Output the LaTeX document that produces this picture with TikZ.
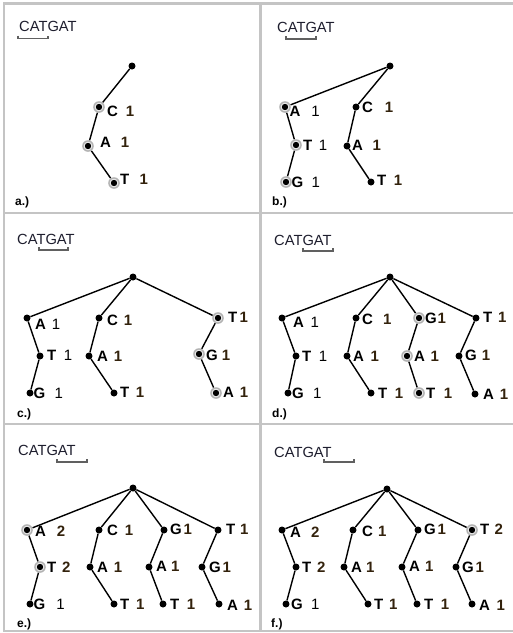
\documentclass[tikz,border=0pt]{standalone}
\usepackage{fontspec}
\setmainfont{Liberation Sans}
\definecolor{dig}{HTML}{33220C}
\definecolor{seqc}{HTML}{1E1E2E}
\definecolor{framec}{HTML}{C4C4C4}
\definecolor{brkc}{HTML}{606060}
\newcommand\DigB[1]{{\color{dig}\bfseries #1}}
\newcommand\DigR[1]{{\mdseries #1}}
\newcommand\Lab[6]{\node[lab] (#1) at (#2,#3) {\makebox[#5pt][l]{#4}#6};}
\newcommand\Brk[3]{\draw[brk] (#1,#3-2.7) -- (#1,#3) -- (#2,#3) -- (#2,#3-2.7);}
\tikzset{
  dot/.style={circle, fill=black, inner sep=0, minimum size=7pt},
  hdot/.style={circle, fill=gray!60, inner sep=0, minimum size=11.6pt,
    path picture={\fill[gray!12] (path picture bounding box.center) circle (4.3pt);
      \fill[black] (path picture bounding box.center) circle (3.2pt);}},
  edge/.style={draw=black, line width=1.4pt},
  lab/.style={anchor=west, inner sep=0, font=\fontsize{15}{16}\selectfont\bfseries},
  seq/.style={anchor=west, inner sep=0, text=seqc, font=\fontsize{14.7}{16}\selectfont},
  plab/.style={anchor=west, inner sep=0, font=\fontsize{12}{13}\selectfont\bfseries},
  brk/.style={draw=brkc, line width=1.4pt},
  frame/.style={draw=framec, line width=2.6pt}
}
\begin{document}
\begin{tikzpicture}[x=1pt,y=-1pt]
\useasboundingbox (0,0) rectangle (513,633);
% frame
\draw[frame] (3.8,3.5) -- (513,3.5);
\draw[frame] (3.8,213) -- (513,213);
\draw[frame] (3.8,424) -- (513,424);
\draw[frame] (3.8,631) -- (513,631);
\draw[frame] (3.8,2.2) -- (3.8,632.3);
\draw[frame] (260.7,2.2) -- (260.7,632.3);

% ---------- panel a ----------
\node[seq] (sa) at (19,26.5) {CATGAT};
\Brk{18}{48}{38.3}
\node[plab] (pa) at (15,202.5) {a.)};
\node[dot] (a0) at (132,66) {};
\node[hdot] (a1) at (99,107) {};
\node[hdot] (a2) at (88,146) {};
\node[hdot] (a3) at (114,183) {};
\draw[edge] (a0) -- (a1) -- (a2) -- (a3);
\Lab{a1l}{107}{111}{C}{18.7}{\DigB{1}}
\Lab{a2l}{100}{142.5}{A}{20.7}{\DigB{1}}
\Lab{a3l}{120}{179}{T}{19.3}{\DigB{1}}

% ---------- panel b ----------
\node[seq] (sb) at (277,27) {CATGAT};
\Brk{286}{316}{39}
\node[plab] (pb) at (272,202.5) {b.)};
\node[dot] (b0) at (390,66) {};
\node[hdot] (b1) at (285,107) {};
\node[hdot] (b2) at (296,145) {};
\node[hdot] (b3) at (286,182) {};
\node[dot] (b4) at (356,107) {};
\node[dot] (b5) at (347,146) {};
\node[dot] (b6) at (371,182) {};
\draw[edge] (b0) -- (b1) -- (b2) -- (b3);
\draw[edge] (b0) -- (b4) -- (b5) -- (b6);
\Lab{b1l}{289.5}{111.5}{A}{21.7}{\DigR{1}}
\Lab{b2l}{303}{145.5}{T}{15.7}{\DigR{1}}
\Lab{b3l}{291.5}{182}{G}{20}{\DigR{1}}
\Lab{b4l}{362}{107.5}{C}{22.7}{\DigB{1}}
\Lab{b5l}{352}{145.5}{A}{20.3}{\DigB{1}}
\Lab{b6l}{377}{180}{T}{16.7}{\DigB{1}}

% ---------- panel c ----------
\node[seq] (sc) at (17,239) {CATGAT};
\Brk{39}{68}{250}
\node[plab] (pc) at (17,414) {c.)};
\node[dot] (c0) at (133,277) {};
\node[dot] (c1) at (27,318) {};
\node[dot] (c2) at (40,356) {};
\node[dot] (c3) at (30,393) {};
\node[dot] (c4) at (99,318) {};
\node[dot] (c5) at (89,356) {};
\node[dot] (c6) at (114,393) {};
\node[hdot] (c7) at (218,318) {};
\node[hdot] (c8) at (199,354) {};
\node[hdot] (c9) at (216,393) {};
\draw[edge] (c0) -- (c1) -- (c2) -- (c3);
\draw[edge] (c0) -- (c4) -- (c5) -- (c6);
\draw[edge] (c0) -- (c7) -- (c8) -- (c9);
\Lab{c1l}{35}{324}{A}{16.7}{\DigR{1}}
\Lab{c2l}{47}{355.5}{T}{16.7}{\DigR{1}}
\Lab{c3l}{33.5}{393}{G}{21}{\DigR{1}}
\Lab{c4l}{107}{320}{C}{16.7}{\DigB{1}}
\Lab{c5l}{97}{356}{A}{16.7}{\DigB{1}}
\Lab{c6l}{120}{392.5}{T}{15.7}{\DigB{1}}
\Lab{c7l}{228}{317.5}{T}{11.3}{\DigB{1}}
\Lab{c8l}{206}{355}{G}{15.7}{\DigB{1}}
\Lab{c9l}{223}{392}{A}{16.7}{\DigB{1}}

% ---------- panel d ----------
\node[seq] (sd) at (274,240) {CATGAT};
\Brk{303}{333}{251}
\node[plab] (pd) at (272,414) {d.)};
\node[dot] (d0) at (390,277) {};
\node[dot] (d1) at (282,318) {};
\node[dot] (d2) at (296,356) {};
\node[dot] (d3) at (288,393) {};
\node[dot] (d4) at (356,318) {};
\node[dot] (d5) at (347,356) {};
\node[dot] (d6) at (371,393) {};
\node[hdot] (d7) at (419,318) {};
\node[hdot] (d8) at (407,356) {};
\node[hdot] (d9) at (419,393) {};
\node[dot] (d10) at (476,318) {};
\node[dot] (d11) at (459,356) {};
\node[dot] (d12) at (475,394) {};
\draw[edge] (d0) -- (d1) -- (d2) -- (d3);
\draw[edge] (d0) -- (d4) -- (d5) -- (d6);
\draw[edge] (d0) -- (d7) -- (d8) -- (d9);
\draw[edge] (d0) -- (d10) -- (d11) -- (d12);
\Lab{d1l}{293}{322.5}{A}{17.3}{\DigR{1}}
\Lab{d2l}{302}{356}{T}{16.7}{\DigR{1}}
\Lab{d3l}{292}{393}{G}{21}{\DigR{1}}
\Lab{d4l}{362}{319}{C}{21}{\DigB{1}}
\Lab{d5l}{353}{356}{A}{17.3}{\DigB{1}}
\Lab{d6l}{378}{393}{T}{16.7}{\DigB{1}}
\Lab{d7l}{425}{318}{G}{12.3}{\DigB{1}}
\Lab{d8l}{414}{356}{A}{16.3}{\DigB{1}}
\Lab{d9l}{426}{393}{T}{17.7}{\DigB{1}}
\Lab{d10l}{483}{317}{T}{15}{\DigB{1}}
\Lab{d11l}{465}{355}{G}{16.7}{\DigB{1}}
\Lab{d12l}{483}{394}{A}{16.7}{\DigB{1}}

% ---------- panel e ----------
\node[seq] (se) at (18,450.5) {CATGAT};
\Brk{57}{87}{462}
\node[plab] (pe) at (17,624) {e.)};
\node[dot] (e0) at (133,488) {};
\node[hdot] (e1) at (27,530) {};
\node[hdot] (e2) at (40,567) {};
\node[dot] (e3) at (30,604) {};
\node[dot] (e4) at (99,530) {};
\node[dot] (e5) at (90,567) {};
\node[dot] (e6) at (114,604) {};
\node[dot] (e7) at (164,530) {};
\node[dot] (e8) at (149,567) {};
\node[dot] (e9) at (163,604) {};
\node[dot] (e10) at (218,530) {};
\node[dot] (e11) at (202,567) {};
\node[dot] (e12) at (219,604) {};
\draw[edge] (e0) -- (e1) -- (e2) -- (e3);
\draw[edge] (e0) -- (e4) -- (e5) -- (e6);
\draw[edge] (e0) -- (e7) -- (e8) -- (e9);
\draw[edge] (e0) -- (e10) -- (e11) -- (e12);
\Lab{e1l}{35}{531.5}{A}{21.7}{\DigB{2}}
\Lab{e2l}{47}{567}{T}{15}{\DigB{2}}
\Lab{e3l}{33.5}{604}{G}{22.7}{\DigR{1}}
\Lab{e4l}{107}{530}{C}{17.7}{\DigB{1}}
\Lab{e5l}{97}{567}{A}{16.7}{\DigB{1}}
\Lab{e6l}{120}{604}{T}{16}{\DigB{1}}
\Lab{e7l}{170}{529}{G}{13.3}{\DigB{1}}
\Lab{e8l}{156}{566}{A}{15}{\DigB{1}}
\Lab{e9l}{170}{604}{T}{16.7}{\DigB{1}}
\Lab{e10l}{226}{529}{T}{14}{\DigB{1}}
\Lab{e11l}{209}{567}{G}{13.3}{\DigB{1}}
\Lab{e12l}{227}{605}{A}{16.7}{\DigB{1}}

% ---------- panel f ----------
\node[seq] (sf) at (274,452) {CATGAT};
\Brk{324}{354}{462}
\node[plab] (pf) at (271,624) {f.)};
\node[dot] (f0) at (387,489) {};
\node[dot] (f1) at (282,530) {};
\node[dot] (f2) at (296,567) {};
\node[dot] (f3) at (286,604) {};
\node[dot] (f4) at (353,530) {};
\node[dot] (f5) at (344,567) {};
\node[dot] (f6) at (368,604) {};
\node[dot] (f7) at (418,530) {};
\node[dot] (f8) at (402,567) {};
\node[dot] (f9) at (417,604) {};
\node[hdot] (f10) at (472,530) {};
\node[dot] (f11) at (456,567) {};
\node[dot] (f12) at (472,604) {};
\draw[edge] (f0) -- (f1) -- (f2) -- (f3);
\draw[edge] (f0) -- (f4) -- (f5) -- (f6);
\draw[edge] (f0) -- (f7) -- (f8) -- (f9);
\draw[edge] (f0) -- (f10) -- (f11) -- (f12);
\Lab{f1l}{290}{532}{A}{21}{\DigB{2}}
\Lab{f2l}{302}{567}{T}{15}{\DigB{2}}
\Lab{f3l}{291}{604}{G}{20}{\DigR{1}}
\Lab{f4l}{362}{531}{C}{16}{\DigB{1}}
\Lab{f5l}{351}{567}{A}{15}{\DigB{1}}
\Lab{f6l}{374}{604}{T}{15}{\DigB{1}}
\Lab{f7l}{424}{529}{G}{13.3}{\DigB{1}}
\Lab{f8l}{409}{566}{A}{16}{\DigB{1}}
\Lab{f9l}{424}{604}{T}{16.7}{\DigB{1}}
\Lab{f10l}{480}{529}{T}{14.3}{\DigB{2}}
\Lab{f11l}{462}{567}{G}{13.3}{\DigB{1}}
\Lab{f12l}{479}{605}{A}{17.3}{\DigB{1}}
\end{tikzpicture}
\end{document}
